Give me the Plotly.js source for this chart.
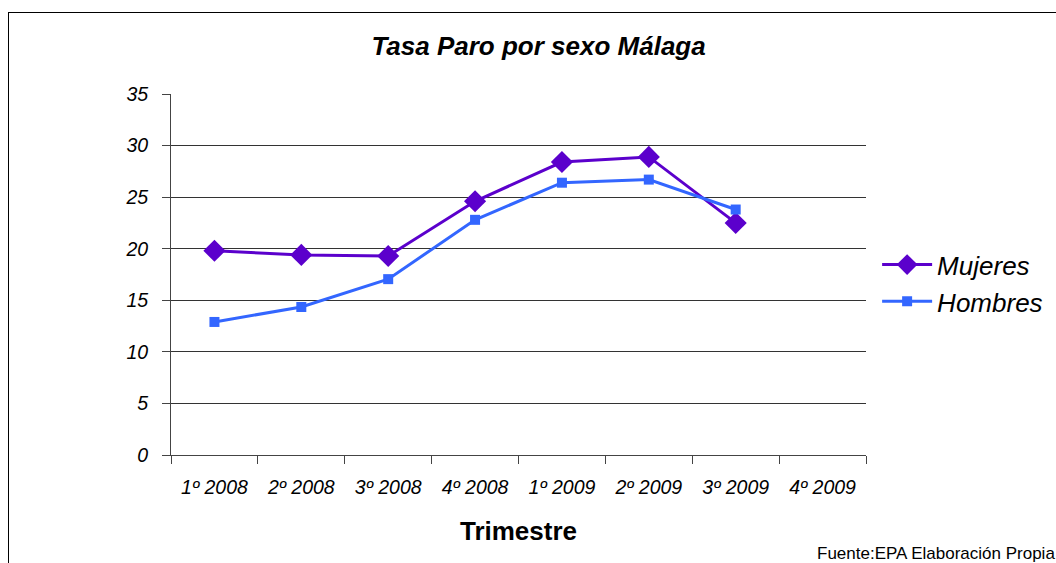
<!DOCTYPE html>
<html>
<head>
<meta charset="utf-8">
<script src="https://cdn.plot.ly/plotly-3.0.1.min.js"></script>
<style>
html,body{margin:0;padding:0;background:#fff;}
#wrap{position:relative;width:1056px;height:563px;overflow:hidden;}
#chart{position:absolute;left:0;top:0;width:1056px;height:563px;}
#frame{position:absolute;left:8px;top:12px;width:1100px;height:600px;border:1px solid #000;pointer-events:none;}
</style>
</head>
<body>
<div id="wrap"><div id="chart"></div><div id="frame"></div></div>
<script>
const categories = ["1º 2008","2º 2008","3º 2008","4º 2008","1º 2009","2º 2009","3º 2009","4º 2009"];
const mujeres = [19.8, 19.4, 19.3, 24.6, 28.4, 28.9, 22.5, null];
const hombres = [12.9, 14.35, 17.05, 22.8, 26.4, 26.7, 23.8, null];
const yTicks = [0,5,10,15,20,25,30,35];

const font = "Liberation Sans, Arial, sans-serif";

const traces = [
  {x: categories, y: mujeres, name: "Mujeres", type: "scatter", mode: "lines+markers",
   line: {color: "#5B00CC", width: 3}, marker: {symbol: "diamond", size: 17, color: "#5B00CC"}},
  {x: categories, y: hombres, name: "Hombres", type: "scatter", mode: "lines+markers",
   line: {color: "#3366FF", width: 3}, marker: {symbol: "square", size: 10, color: "#3366FF"}}
];

const layout = {
  width: 1056, height: 563,
  margin: {l: 171, r: 190, t: 94, b: 108, autoexpand: false},
  paper_bgcolor: "#fff", plot_bgcolor: "#fff",
  font: {family: font, color: "#000"},
  title: {text: "Tasa Paro por sexo Málaga", font: {family: font, size: 26, weight: "bold", style: "italic", color: "#000"},
          x: 0.51, xanchor: "center", y: 0.918, yanchor: "middle"},
  xaxis: {
    type: "category", categoryorder: "array", categoryarray: categories,
    range: [-0.5, 7.5], tickson: "boundaries", ticks: "outside", ticklen: 8, tickcolor: "#444",
    showline: true, linecolor: "#444", linewidth: 1, showgrid: false, zeroline: false,
    tickfont: {family: font, size: 19.5, style: "italic", color: "#000"}, ticklabelstandoff: 15,
    title: {text: "Trimestre", font: {family: font, size: 26, weight: "bold", color: "#000"}, standoff: 24}
  },
  yaxis: {
    range: [0, 35], tickvals: yTicks, ticktext: yTicks.map(String),
    ticks: "outside", ticklen: 8, tickcolor: "#444",
    showline: true, linecolor: "#444", linewidth: 1,
    showgrid: true, gridcolor: "#333", gridwidth: 1, zeroline: false,
    tickfont: {family: font, size: 19.5, style: "italic", color: "#000"}, ticklabelstandoff: 10
  },
  legend: {x: 1.016, xanchor: "left", y: 0.476, yanchor: "middle",
           font: {family: font, size: 26, style: "italic", color: "#000"},
           itemwidth: 50, tracegroupgap: 0, bgcolor: "rgba(0,0,0,0)"},
  annotations: [{text: "Fuente:EPA Elaboración Propia", xref: "paper", yref: "paper",
                 x: 0.9266, xanchor: "left", y: -0.2715, yanchor: "middle", showarrow: false,
                 font: {family: font, size: 17, color: "#000"}}]
};

Plotly.newPlot("chart", traces, layout, {displayModeBar: false, staticPlot: true});
</script>
</body>
</html>
